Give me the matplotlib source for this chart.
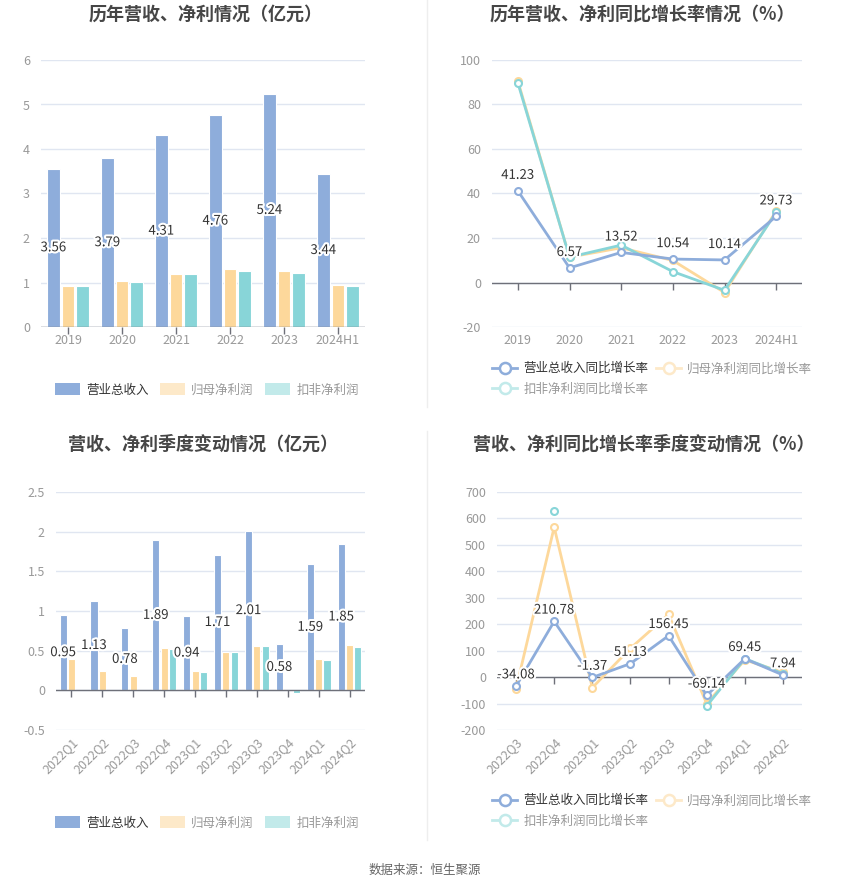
import numpy as np
import matplotlib
matplotlib.use("Agg")
import matplotlib.pyplot as plt
import matplotlib.patheffects as pe
from matplotlib.lines import Line2D
from matplotlib.patches import Patch

plt.rcParams['font.family'] = ['Noto Sans CJK SC', 'DejaVu Sans']
plt.rcParams['axes.unicode_minus'] = False

# 年度数据
years = ["2019", "2020", "2021", "2022", "2023", "2024H1"]
rev_year = [3.56, 3.79, 4.31, 4.76, 5.24, 3.44]
np_year = [0.92, 1.03, 1.20, 1.31, 1.26, 0.95]
dnp_year = [0.92, 1.02, 1.19, 1.25, 1.21, 0.92]

rev_yoy = [41.23, 6.57, 13.52, 10.54, 10.14, 29.73]
np_yoy = [90.6, 11.4, 15.6, 9.9, -4.5, 32.1]
dnp_yoy = [89.8, 11.4, 16.8, 4.9, -3.5, 31.5]

# 季度数据
quarters = ["2022Q1", "2022Q2", "2022Q3", "2022Q4", "2023Q1",
            "2023Q2", "2023Q3", "2023Q4", "2024Q1", "2024Q2"]
rev_q = [0.95, 1.13, 0.78, 1.89, 0.94, 1.71, 2.01, 0.58, 1.59, 1.85]
np_q = [0.39, 0.24, 0.175, 0.53, 0.245, 0.48, 0.56, 0.01, 0.39, 0.57]
dnp_q = [np.nan, np.nan, np.nan, 0.525, 0.225, 0.48, 0.555, -0.033, 0.38, 0.54]

quarters_yoy = ["2022Q3", "2022Q4", "2023Q1", "2023Q2",
                "2023Q3", "2023Q4", "2024Q1", "2024Q2"]
rev_q_yoy = [-34.08, 210.78, -1.37, 51.13, 156.45, -69.14, 69.45, 7.94]
np_q_yoy = [-44, 567, -40, 109, 237, -100, 65, 18]
dnp_q_yoy = [np.nan, 630, np.nan, np.nan, np.nan, -109, 70, 13]

C_REV = "#8eaddb"
C_NP = "#fdd89b"
C_DNP = "#88d5d8"
C_NP_L = "#fde9c9"
C_DNP_L = "#c2eaea"
GRID = "#e0e6f1"
AXIS = "#6e7079"
TICK = "#999999"

W, H = 850, 891
fig = plt.figure(figsize=(W / 100, H / 100), dpi=100)


def px_axes(l, t, r, b):
    return fig.add_axes([l / W, 1 - b / H, (r - l) / W, (b - t) / H])


def style(ax, ylim, yticks, ylabels):
    ax.set_ylim(*ylim)
    ax.set_yticks(yticks)
    ax.set_yticklabels(ylabels)
    for s in ax.spines.values():
        s.set_visible(False)
    ax.grid(axis="y", color=GRID, linewidth=1)
    ax.set_axisbelow(True)
    ax.axhline(0, color=AXIS, linewidth=1, zorder=3.5)
    ax.tick_params(axis="y", length=0, labelsize=9, labelcolor=TICK, pad=8)
    ax.tick_params(axis="x", length=0, labelsize=9, labelcolor=TICK)


stroke = [pe.withStroke(linewidth=3, foreground="white")]


def set_xcats(ax, cats, rot):
    x = np.arange(len(cats))
    ax.set_xlim(-0.5, len(cats) - 0.5)
    ax.set_xticks(x)
    if rot:
        ax.set_xticklabels(cats, rotation=45, ha="right", rotation_mode="anchor")
    else:
        ax.set_xticklabels(cats)
    # 向下的刻度线
    ax.plot(x, np.zeros(len(x)), linestyle="none", marker=3, markersize=5,
            color=AXIS, markeredgewidth=1, zorder=3.5, clip_on=False)


def bar_chart(ax, cats, rev, np_, dnp, width, rot):
    x = np.arange(len(cats))
    step = 0.27
    ax.bar(x - step, rev, width, color=C_REV, edgecolor="white", linewidth=0.8, zorder=3)
    ax.bar(x, np_, width, color=C_NP, edgecolor="white", linewidth=0.8, zorder=3)
    ax.bar(x + step, dnp, width, color=C_DNP, edgecolor="white", linewidth=0.8, zorder=3)
    for xi, v in zip(x, rev):
        ax.text(xi - step, v / 2, f"{v:.2f}", ha="center", va="center", fontsize=9.5,
                color="#333333", path_effects=stroke, zorder=5)
    set_xcats(ax, cats, rot)


def line_chart(ax, cats, rev, np_, dnp, off, rot):
    x = np.arange(len(cats))
    kw = dict(linewidth=2, marker="o", markersize=5, markerfacecolor="white",
              markeredgewidth=1.5, zorder=4, clip_on=False)
    ax.plot(x, np_, color=C_NP, markeredgecolor=C_NP, **kw)
    ax.plot(x, dnp, color=C_DNP, markeredgecolor=C_DNP, **kw)
    ax.plot(x, rev, color=C_REV, markeredgecolor=C_REV, **kw)
    for xi, v in zip(x, rev):
        ax.text(xi, v + off, f"{v:.2f}", ha="center", va="bottom", fontsize=9.5,
                color="#333333", path_effects=stroke, zorder=5)
    set_xcats(ax, cats, rot)


# 图1
ax1 = px_axes(41, 60, 365, 327)
style(ax1, (0, 6), range(0, 7), [str(i) for i in range(0, 7)])
bar_chart(ax1, years, rev_year, np_year, dnp_year, 0.235, False)
ax1.tick_params(axis="x", pad=5)

# 图2
ax2 = px_axes(492, 60, 802, 327)
style(ax2, (-20, 100), range(-20, 101, 20), [str(i) for i in range(-20, 101, 20)])
line_chart(ax2, years, rev_yoy, np_yoy, dnp_yoy, 4, False)
ax2.tick_params(axis="x", pad=5)

# 图3
ax3 = px_axes(56, 492, 365, 730)
yt3 = [-0.5, 0, 0.5, 1, 1.5, 2, 2.5]
style(ax3, (-0.5, 2.5), yt3, ["-0.5", "0", "0.5", "1", "1.5", "2", "2.5"])
bar_chart(ax3, quarters, rev_q, np_q, dnp_q, 0.227, True)
ax3.tick_params(axis="x", pad=4)

# 图4
ax4 = px_axes(497, 492, 802, 730)
yt4 = list(range(-200, 701, 100))
style(ax4, (-200, 700), yt4, [str(i) for i in yt4])
line_chart(ax4, quarters_yoy, rev_q_yoy, np_q_yoy, dnp_q_yoy, 18, True)
ax4.tick_params(axis="x", pad=4)

# 标题
tkw = dict(ha="center", va="center", fontsize=13, fontweight="bold", color="#464646")
fig.text(206 / W, 1 - 14 / H, "历年营收、净利情况（亿元）", **tkw)
fig.text(642 / W, 1 - 14 / H, "历年营收、净利同比增长率情况（%）", **tkw)
fig.text(203 / W, 1 - 444 / H, "营收、净利季度变动情况（亿元）", **tkw)
fig.text(644 / W, 1 - 444 / H, "营收、净利同比增长率季度变动情况（%）", **tkw)

# 图例
bar_handles = [Patch(facecolor=C_REV, edgecolor="none"),
               Patch(facecolor=C_NP_L, edgecolor="none"),
               Patch(facecolor=C_DNP_L, edgecolor="none")]
bar_labels = ["营业总收入", "归母净利润", "扣非净利润"]
lkw = dict(frameon=False, fontsize=9, handlelength=2.0, handleheight=1.1,
           handletextpad=0.5, columnspacing=0.9, loc="center")
for yc in (390, 823):
    lg = fig.legend(bar_handles, bar_labels, ncol=3,
                    bbox_to_anchor=(207 / W, 1 - yc / H), **lkw)
    for i, t in enumerate(lg.get_texts()):
        t.set_color("#333333" if i == 0 else "#999999")

line_labels = ["营业总收入同比增长率", "扣非净利润同比增长率", "归母净利润同比增长率"]
line_cols = [C_REV, C_DNP_L, C_NP_L]
line_handles = [Line2D([], [], color=c, linewidth=2, marker="o", markersize=8,
                       markerfacecolor="white", markeredgecolor=c, markeredgewidth=1.8)
                for c in line_cols]
for yc in (379, 811):
    lg = fig.legend(line_handles, line_labels, ncol=2, frameon=False, fontsize=9,
                    handlelength=2.0, handletextpad=0.5, columnspacing=0.6,
                    labelspacing=0.6, loc="center left",
                    bbox_to_anchor=(481 / W, 1 - yc / H))
    for i, t in enumerate(lg.get_texts()):
        t.set_color("#333333" if i == 0 else "#999999")

# 分隔线
fig.add_artist(Line2D([427 / W, 427 / W], [1 - 0 / H, 1 - 407 / H], color="#eeeeee", linewidth=1))
fig.add_artist(Line2D([427 / W, 427 / W], [1 - 431 / H, 1 - 840 / H], color="#eeeeee", linewidth=1))

fig.text(0.5, 1 - 870 / H, "数据来源：恒生聚源", ha="center", va="center",
         fontsize=9, color="#666666")

fig.savefig("out.png", dpi=100)
